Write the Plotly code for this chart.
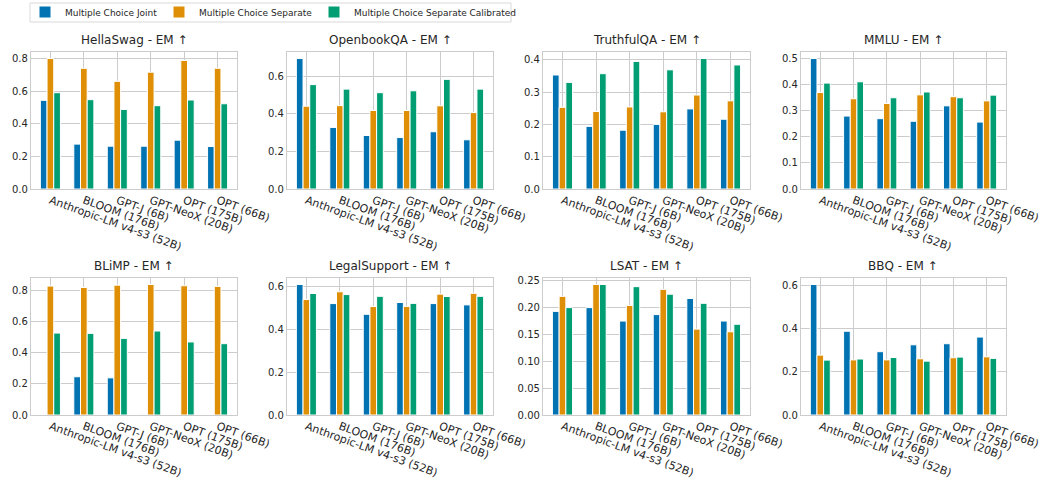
import plotly.graph_objects as go
from plotly.subplots import make_subplots

models = ["Anthropic-LM v4-s3 (52B)", "BLOOM (176B)", "GPT-J (6B)",
          "GPT-NeoX (20B)", "OPT (175B)", "OPT (66B)"]
series_names = ["Multiple Choice Joint", "Multiple Choice Separate",
                "Multiple Choice Separate Calibrated"]
colors = ["#0173B2", "#DE8F05", "#029E73"]

titles = ["HellaSwag - EM ↑", "OpenbookQA - EM ↑", "TruthfulQA - EM ↑", "MMLU - EM ↑",
          "BLiMP - EM ↑", "LegalSupport - EM ↑", "LSAT - EM ↑", "BBQ - EM ↑"]

hellaswag_joint = [0.545, 0.276, 0.263, 0.263, 0.300, 0.261]
hellaswag_sep = [0.802, 0.742, 0.662, 0.718, 0.790, 0.742]
hellaswag_cal = [0.592, 0.549, 0.489, 0.512, 0.547, 0.524]

openbook_joint = [0.695, 0.328, 0.285, 0.274, 0.305, 0.262]
openbook_sep = [0.441, 0.444, 0.418, 0.418, 0.443, 0.407]
openbook_cal = [0.556, 0.532, 0.513, 0.523, 0.584, 0.532]

truthful_joint = [0.353, 0.194, 0.182, 0.200, 0.248, 0.216]
truthful_sep = [0.253, 0.240, 0.254, 0.239, 0.291, 0.273]
truthful_cal = [0.330, 0.357, 0.395, 0.369, 0.404, 0.384]

mmlu_joint = [0.499, 0.279, 0.269, 0.259, 0.318, 0.256]
mmlu_sep = [0.369, 0.345, 0.327, 0.360, 0.353, 0.337]
mmlu_cal = [0.405, 0.410, 0.349, 0.371, 0.349, 0.359]

blimp_joint = [0.001, 0.245, 0.238, 0.004, 0.0, 0.0]
blimp_sep = [0.826, 0.817, 0.832, 0.836, 0.828, 0.824]
blimp_cal = [0.525, 0.523, 0.491, 0.538, 0.468, 0.457]

legal_joint = [0.609, 0.520, 0.470, 0.525, 0.520, 0.514]
legal_sep = [0.539, 0.575, 0.506, 0.507, 0.564, 0.568]
legal_cal = [0.567, 0.562, 0.554, 0.521, 0.553, 0.554]

lsat_joint = [0.193, 0.200, 0.175, 0.187, 0.217, 0.175]
lsat_sep = [0.221, 0.243, 0.204, 0.234, 0.160, 0.155]
lsat_cal = [0.200, 0.243, 0.239, 0.225, 0.208, 0.169]

bbq_joint = [0.606, 0.389, 0.294, 0.326, 0.331, 0.362]
bbq_sep = [0.278, 0.256, 0.256, 0.261, 0.266, 0.270]
bbq_cal = [0.255, 0.260, 0.267, 0.250, 0.269, 0.263]

panels = [
    (hellaswag_joint, hellaswag_sep, hellaswag_cal, 0.2, ".1f"),
    (openbook_joint, openbook_sep, openbook_cal, 0.2, ".1f"),
    (truthful_joint, truthful_sep, truthful_cal, 0.1, ".1f"),
    (mmlu_joint, mmlu_sep, mmlu_cal, 0.1, ".1f"),
    (blimp_joint, blimp_sep, blimp_cal, 0.2, ".1f"),
    (legal_joint, legal_sep, legal_cal, 0.2, ".1f"),
    (lsat_joint, lsat_sep, lsat_cal, 0.05, ".2f"),
    (bbq_joint, bbq_sep, bbq_cal, 0.2, ".1f"),
]

W, H = 1052, 483
col_px = [(31, 237), (287, 493), (543, 750), (801, 1006)]
row_px = [(52, 189), (278, 415)]
legend_names = ["legend", "legend2", "legend3"]
legend_text_x = [58, 192, 347]

fig = make_subplots(rows=2, cols=4)
txt = "#262626"
grid = "#cccccc"

for i, (j, s, c, dt, fmt) in enumerate(panels):
    r, cidx = i // 4 + 1, i % 4 + 1
    for k, vals in enumerate([j, s, c]):
        fig.add_trace(go.Bar(x=models, y=vals, name=series_names[k],
                             marker=dict(color=colors[k], line=dict(color="white", width=1)),
                             showlegend=(i == 0), legendgroup=series_names[k],
                             legend=legend_names[k]),
                      row=r, col=cidx)
    ymax = max(max(j), max(s), max(c)) * 1.05
    x0, x1 = col_px[cidx - 1]
    y0, y1 = row_px[r - 1]
    fig.update_xaxes(domain=[x0 / W, x1 / W], range=[-0.58, 5.58], tickangle=20,
                     automargin=False,
                     showgrid=True, gridcolor=grid, showline=True, linecolor=grid,
                     linewidth=1.25, mirror=True, ticks="", tickfont=dict(size=11, color=txt),
                     row=r, col=cidx)
    fig.update_yaxes(domain=[1 - y1 / H, 1 - y0 / H], range=[0, ymax], dtick=dt, tick0=0,
                     automargin=False,
                     tickformat=fmt, showgrid=True, gridcolor=grid, showline=True,
                     linecolor=grid, linewidth=1.25, mirror=True, zeroline=False, ticks="",
                     tickfont=dict(size=10, color=txt), row=r, col=cidx)
    fig.add_annotation(text=titles[i], x=(x0 + x1) / 2 / W, y=1 - (y0 - 3) / H,
                       xref="paper", yref="paper", xanchor="center", yanchor="bottom",
                       showarrow=False, font=dict(size=12, color=txt))

leg_common = dict(orientation="h", yanchor="middle", y=1 - 12 / H, xanchor="left",
                  borderwidth=0, bgcolor="rgba(0,0,0,0)", font=dict(size=9, color=txt))
layout_legends = {}
for k, ln in enumerate(legend_names):
    layout_legends[ln] = dict(leg_common, x=(legend_text_x[k] - 33) / W)

fig.add_shape(type="rect", xref="paper", yref="paper", x0=30 / W, x1=511 / W,
              y0=1 - 22 / H, y1=1 - 3 / H, line=dict(color="#d9d9d9", width=1),
              fillcolor="white", layer="below")

fig.update_layout(
    width=W, height=H, margin=dict(l=0, r=0, t=0, b=0, autoexpand=False),
    paper_bgcolor="white", plot_bgcolor="white",
    font=dict(family="DejaVu Sans", color=txt),
    barmode="group", bargap=0.4, bargroupgap=0,
    **layout_legends,
)

fig.write_html("out.html", post_script="document.body.style.margin='0';",
               config={"displayModeBar": False})
